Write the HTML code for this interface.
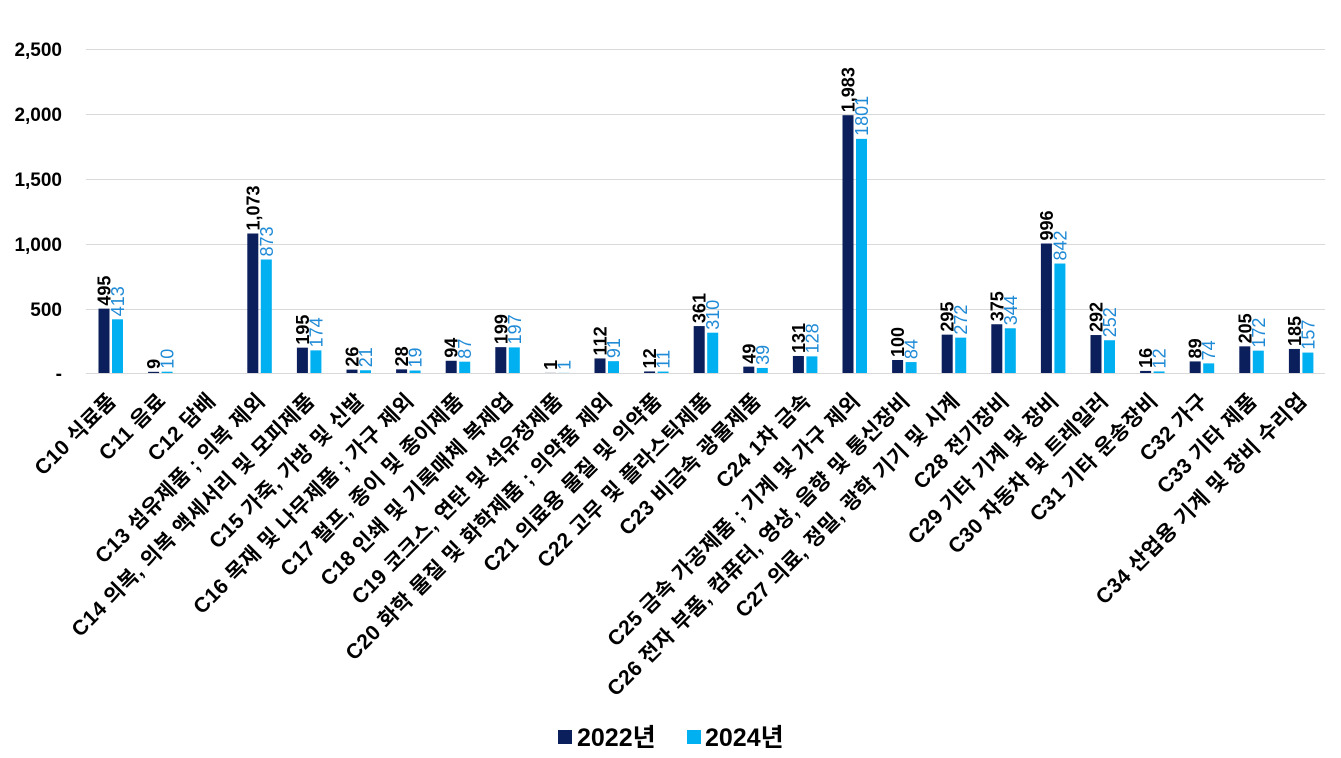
<!DOCTYPE html>
<html><head><meta charset="utf-8"><style>
body{margin:0;background:#fff;}
svg{display:block;font-family:"Liberation Sans","Noto Sans CJK KR",sans-serif;}
</style></head><body>
<svg width="1341" height="758" viewBox="0 0 1341 758" xmlns="http://www.w3.org/2000/svg">
<g stroke="#d9d9d9" stroke-width="1">
<line x1="86" y1="49.5" x2="1325" y2="49.5"/>
<line x1="86" y1="114.5" x2="1325" y2="114.5"/>
<line x1="86" y1="179.5" x2="1325" y2="179.5"/>
<line x1="86" y1="244.5" x2="1325" y2="244.5"/>
<line x1="86" y1="309.5" x2="1325" y2="309.5"/>
<line x1="86" y1="373.5" x2="1325" y2="373.5"/>
</g>
<g font-size="19" font-weight="bold" fill="#000" text-anchor="end">
<text x="62" y="56">2,500</text>
<text x="62" y="121">2,000</text>
<text x="62" y="186">1,500</text>
<text x="62" y="251">1,000</text>
<text x="62" y="316">500</text>
<text x="62" y="380">-</text>
</g>
<g id="bars"></g>
<g id="vals"></g>
<g id="cats" font-size="21" font-weight="bold" fill="#000" text-anchor="end" letter-spacing="0.4"></g>
<rect x="558" y="730" width="14" height="14" fill="#0a1f5c"/>
<text x="577" y="746" font-size="25" font-weight="bold">2022년</text>
<rect x="687" y="730" width="14" height="14" fill="#00b0f0"/>
<text x="705" y="746" font-size="25" font-weight="bold">2024년</text>
<script>
var d=[["C10 식료품",495,413],["C11 음료",9,10],["C12 담배",null,null],["C13 섬유제품 ; 의복 제외",1073,873],["C14 의복, 의복 액세서리 및 모피제품",195,174],["C15 가죽, 가방 및 신발",26,21],["C16 목재 및 나무제품 ; 가구 제외",28,19],["C17 펄프, 종이 및 종이제품",94,87],["C18 인쇄 및 기록매체 복제업",199,197],["C19 코크스, 연탄 및 석유정제품",1,1],["C20 화학 물질 및 화학제품 ; 의약품 제외",112,91],["C21 의료용 물질 및 의약품",12,11],["C22 고무 및 플라스틱제품",361,310],["C23 비금속 광물제품",49,39],["C24 1차 금속",131,128],["C25 금속 가공제품 ; 기계 및 가구 제외",1983,1801],["C26 전자 부품, 컴퓨터, 영상, 음향 및 통신장비",100,84],["C27 의료, 정밀, 광학 기기 및 시계",295,272],["C28 전기장비",375,344],["C29 기타 기계 및 장비",996,842],["C30 자동차 및 트레일러",292,252],["C31 기타 운송장비",16,12],["C32 가구",89,74],["C33 기타 제품",205,172],["C34 산업용 기계 및 장비 수리업",185,157]];
var NS="http://www.w3.org/2000/svg",b=document.getElementById("bars"),v=document.getElementById("vals"),c=document.getElementById("cats");
function el(p,t,a,tx){var e=document.createElementNS(NS,t);for(var k in a)e.setAttribute(k,a[k]);if(tx!=null)e.textContent=tx;p.appendChild(e);return e;}
function fmt(n){return n.toString().replace(/\B(?=(\d{3})+(?!\d))/g,",");}
d.forEach(function(r,i){var cx=110.5+i*49.6;
if(r[1]!=null){var h=r[1]*0.13,y=373-h;el(b,"rect",{x:cx-12,y:y,width:11,height:h,fill:"#0a1f5c"});
var tx=cx-6.5+6.5,ty=y-3;el(v,"text",{x:tx,y:ty,transform:"rotate(-90 "+tx+" "+ty+")","font-size":"18","font-weight":"bold",fill:"#000"},fmt(r[1]));}
if(r[2]!=null){var h2=r[2]*0.13,y2=373-h2;el(b,"rect",{x:cx+1.5,y:y2,width:11,height:h2,fill:"#00b0f0"});
var tx2=cx+7+6.5,ty2=y2-3;el(v,"text",{x:tx2,y:ty2,transform:"rotate(-90 "+tx2+" "+ty2+")","font-size":"18",fill:"#1f8ad6"},String(r[2]));}
var ax=cx+7,ay=402;el(c,"text",{x:ax,y:ay,transform:"rotate(-45 "+ax+" "+ay+")"},r[0]);});
</script>
</svg>
</body></html>
